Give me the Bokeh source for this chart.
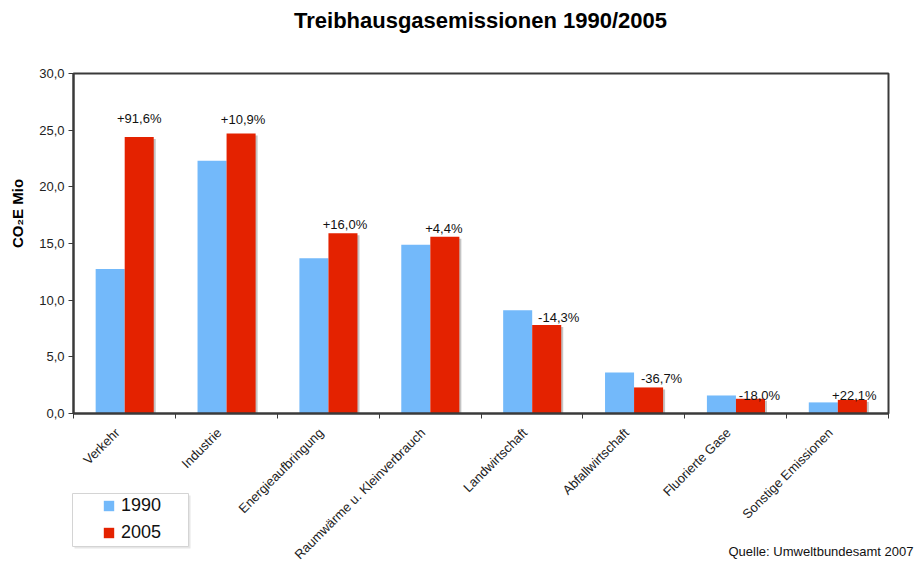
import math
from bokeh.plotting import figure
from bokeh.models import (Range1d, FixedTicker, LinearAxis, Label, Legend, LegendItem,
                          ColumnDataSource, BoxAnnotation)
from bokeh.core.properties import value
from bokeh.embed import file_html
from bokeh.resources import INLINE

# ---- data ----
categories = ["Verkehr", "Industrie", "Energieaufbringung", "Raumwärme u. Kleinverbrauch",
              "Landwirtschaft", "Abfallwirtschaft", "Fluorierte Gase", "Sonstige Emissionen"]
values_1990 = [12.75, 22.3, 13.7, 14.9, 9.1, 3.62, 1.59, 0.98]
values_2005 = [24.4, 24.7, 15.9, 15.6, 7.8, 2.3, 1.3, 1.2]
change_labels = ["+91,6%", "+10,9%", "+16,0%", "+4,4%", "-14,3%", "-36,7%", "-18,0%", "+22,1%"]
y_ticks = [0, 5, 10, 15, 20, 25, 30]

# label placement tweaks (pixels)
label_dx = [0, 2, 2, -1, 12, 13, 9, 2]
label_dy = [18, 14, 9, 8, 8, 9, 3, 4]

# ---- layout (pixels) ----
W_PX, H_PX = 915, 562
PLOT_L, PLOT_R, PLOT_T, PLOT_B = 73, 888, 73, 413
Y_MAX = 30
n = len(categories)

FONT = "Liberation Sans"
BLUE = "#73B9FA"
RED = "#E42200"
SHADOW = "#c4c4c4"
DARK = "#3a3a3a"

# map whole canvas to data so the plot area lands on the right pixels
xs_per_px = n / (PLOT_R - PLOT_L)
ys_per_px = Y_MAX / (PLOT_B - PLOT_T)
x_range = Range1d(-PLOT_L * xs_per_px, n + (W_PX - PLOT_R) * xs_per_px)
y_range = Range1d(-(H_PX - PLOT_B) * ys_per_px, Y_MAX + PLOT_T * ys_per_px)

idx = list(range(n))
src = ColumnDataSource(dict(
    x1=[i + 0.36 for i in idx],
    x2=[i + 0.645 for i in idx],
    xs=[i + 0.645 + 2 * xs_per_px for i in idx],
    v1=values_1990,
    v2=values_2005,
    vs=[v - 2 * ys_per_px for v in values_2005],
    lab=change_labels,
    dx=label_dx,
    dy=[-d for d in label_dy],
))

p = figure(width=W_PX, height=H_PX, output_backend="svg", toolbar_location=None,
           x_range=x_range, y_range=y_range,
           min_border=0, x_axis_type=None, y_axis_type=None)
p.background_fill_color = "white"
p.border_fill_color = "white"
p.outline_line_color = None

# y axis (fixed at x = 0)
yax = LinearAxis(ticker=FixedTicker(ticks=y_ticks, minor_ticks=[]), fixed_location=0,
                 bounds=(0, Y_MAX))
yax.major_label_overrides = {t: f"{t:.1f}".replace(".", ",") for t in y_ticks}
yax.major_label_text_font = FONT
yax.major_label_text_font_size = "13px"
yax.major_label_text_color = "#222222"
yax.axis_line_color = DARK
yax.axis_line_width = 2
yax.major_tick_line_color = DARK
yax.major_tick_out = 5
yax.major_tick_in = 0
yax.major_label_standoff = 4
p.add_layout(yax, "left")

# x axis (fixed at y = 0): labels near category centres, ticks at boundaries
LBL_SHIFT = 0.43
xax = LinearAxis(ticker=FixedTicker(ticks=[i + LBL_SHIFT for i in idx],
                                    minor_ticks=list(range(n + 1))),
                 fixed_location=0, bounds=(0, n))
xax.major_label_overrides = {i + LBL_SHIFT: c for i, c in enumerate(categories)}
xax.major_label_orientation = math.pi / 4
xax.major_label_text_font = FONT
xax.major_label_text_font_size = "13px"
xax.major_label_text_color = "#222222"
xax.major_tick_line_color = None
xax.minor_tick_line_color = DARK
xax.minor_tick_out = 5
xax.minor_tick_in = 0
xax.axis_line_color = DARK
xax.axis_line_width = 2
xax.major_label_standoff = 11
p.add_layout(xax, "below")

# grid
p.ygrid.ticker = FixedTicker(ticks=y_ticks[1:-1])
p.ygrid.grid_line_color = "#c8c8c8"
p.ygrid.grid_line_width = 1.5
p.ygrid.bounds = (0, n)
p.xgrid.visible = False

# plot area border
p.add_layout(BoxAnnotation(left=0, right=n, bottom=0, top=Y_MAX, fill_alpha=0,
                           line_color=DARK, line_alpha=1, line_width=2))

BW = 0.285
p.vbar(x="xs", top="vs", width=BW, source=src, fill_color=SHADOW, line_color=None)
r1 = p.vbar(x="x1", top="v1", width=BW, source=src, fill_color=BLUE, line_color=None)
r2 = p.vbar(x="x2", top="v2", width=BW, source=src, fill_color=RED, line_color=None)

p.text(x="x2", y="v2", text="lab", source=src, x_offset="dx", y_offset="dy",
       text_align="center", text_baseline="middle", text_font=value(FONT),
       text_font_size="13px", text_color="#111111")

# legend box + legend
LG_L, LG_R, LG_T, LG_B = 72, 188, 493, 546
p.add_layout(BoxAnnotation(left=LG_L + 2, right=LG_R + 2, top=H_PX - LG_T - 2, bottom=H_PX - LG_B - 2,
                           left_units="screen", right_units="screen", top_units="screen",
                           bottom_units="screen", fill_color="#e6e6e6", fill_alpha=1,
                           line_color=None))
p.add_layout(BoxAnnotation(left=LG_L, right=LG_R, top=H_PX - LG_T, bottom=H_PX - LG_B,
                           left_units="screen", right_units="screen", top_units="screen",
                           bottom_units="screen", fill_color="white", fill_alpha=1,
                           line_color="#d4d4d4", line_alpha=1, line_width=1))
legend = Legend(items=[LegendItem(label="1990", renderers=[r1]),
                       LegendItem(label="2005", renderers=[r2])],
                location=(102, H_PX - 543))
legend.label_text_font = FONT
legend.label_text_font_size = "18px"
legend.label_text_color = "#111111"
legend.glyph_width = 13
legend.glyph_height = 13
legend.label_standoff = 6
legend.label_height = 20
legend.padding = 0
legend.spacing = 6
legend.margin = 0
legend.border_line_alpha = 0
legend.background_fill_alpha = 0
p.add_layout(legend, "center")

# texts
p.add_layout(Label(x=480, y=H_PX - 20, x_units="screen", y_units="screen",
                   text="Treibhausgasemissionen 1990/2005", text_font=FONT,
                   text_font_size="22px", text_font_style="bold", text_align="center",
                   text_baseline="middle", text_color="#000000"))
p.add_layout(Label(x=17, y=H_PX - 213, x_units="screen", y_units="screen", angle=math.pi / 2,
                   text="CO₂E Mio", text_font=FONT, text_font_size="15px",
                   text_font_style="bold", text_align="center", text_baseline="middle",
                   text_color="#000000"))
p.add_layout(Label(x=913, y=H_PX - 551, x_units="screen", y_units="screen",
                   text="Quelle: Umweltbundesamt 2007", text_font=FONT,
                   text_font_size="13px", text_align="right", text_baseline="middle",
                   text_color="#111111"))

open("out.html", "w").write(file_html(p, INLINE))
